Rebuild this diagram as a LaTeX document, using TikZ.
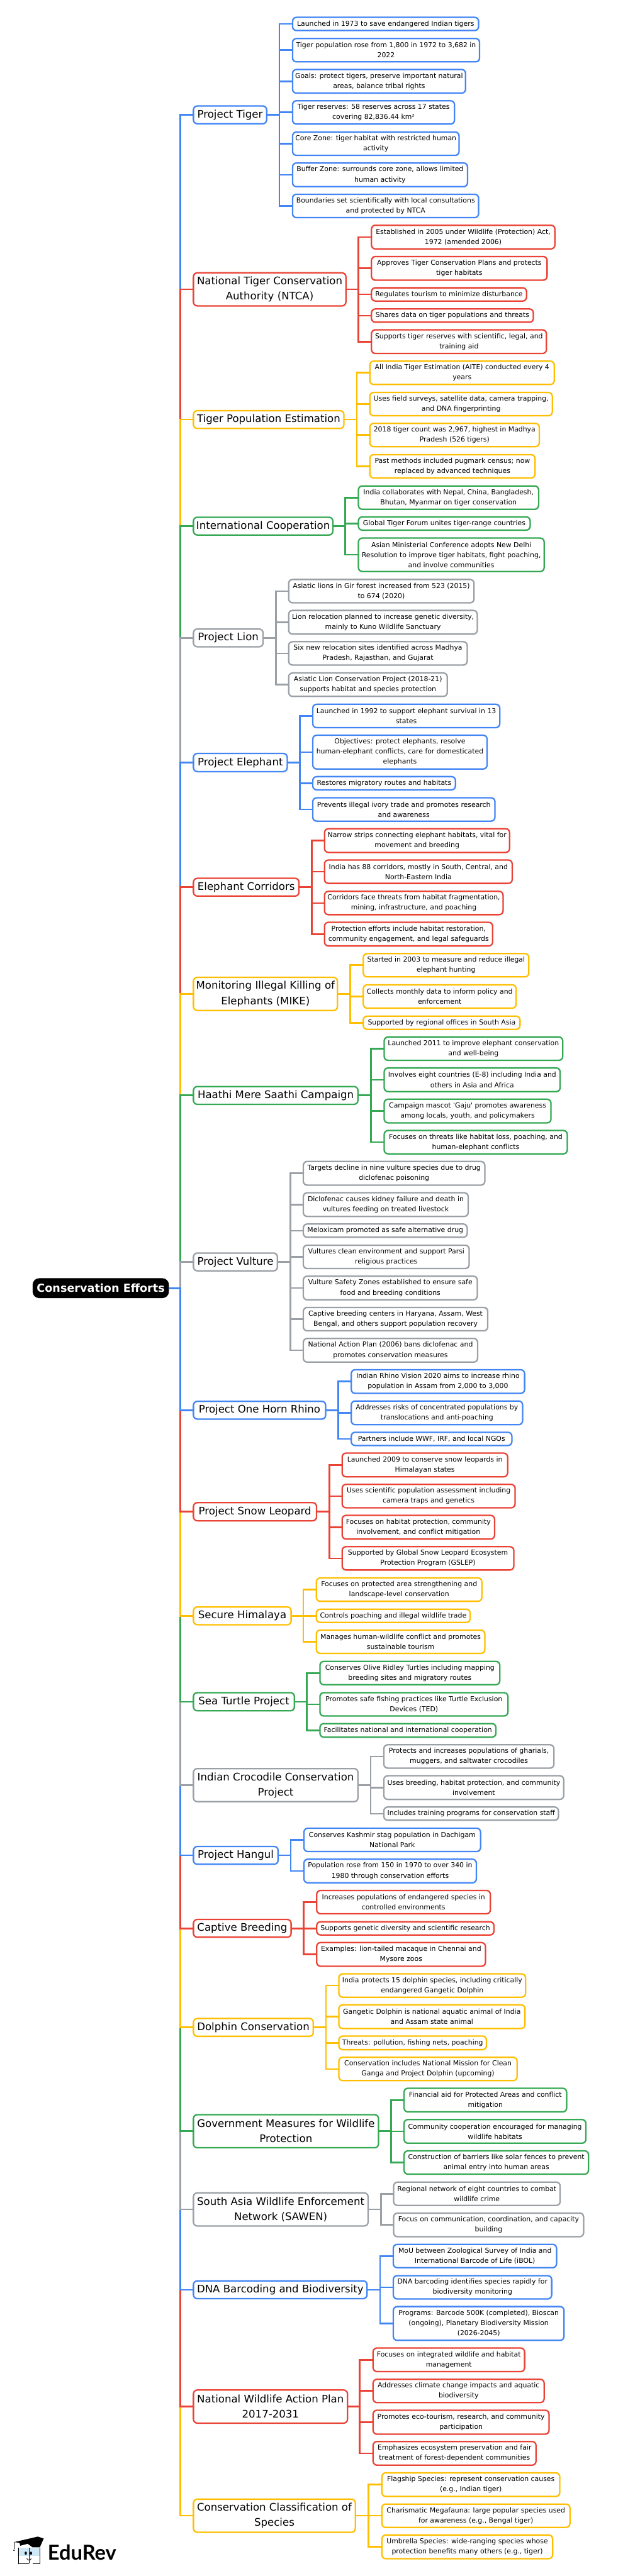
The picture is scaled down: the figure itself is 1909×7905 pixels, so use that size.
\documentclass[tikz,border=0pt]{standalone}
\usepackage{fontspec}
\setmainfont{DejaVu Sans}
\newfontfamily\plainf{DejaVu Sans}
\newfontfamily\logof{Lato}
\definecolor{cB}{HTML}{4285F4}
\definecolor{cR}{HTML}{EA4335}
\definecolor{cY}{HTML}{FFBF00}
\definecolor{cG}{HTML}{34A853}
\definecolor{cA}{HTML}{9AA0A6}
\definecolor{faceblue}{HTML}{CFE8F7}
\tikzset{
 boxbase/.style={rectangle,rounded corners=6pt,line width=2.2pt,fill=white,inner sep=0pt,outer sep=0pt,align=center,text=black},
 leafbox/.style={boxbase,font=\fontsize{10.5}{15.5}\selectfont},
 catbox/.style={boxbase,font=\fontsize{16}{23.25}\selectfont},
 rootbox/.style={rectangle,rounded corners=10pt,fill=black,text=white,inner sep=0pt,outer sep=0pt,align=center,font=\fontsize{17}{23.25}\selectfont\bfseries},
 linkline/.style={line width=2.5pt,line join=miter}
}
\newcommand{\lf}[7]{\node[leafbox,draw=#2,minimum width={(#4-#3-4.4)*0.5pt},minimum height={(#6-#5-4.4)*0.5pt}] (#1) at ({(#3+#4)/2},{(#5+#6)/2}) {#7};}
\newcommand{\ct}[7]{\node[catbox,draw=#2,minimum width={(#4-#3-4.4)*0.5pt},minimum height={(#6-#5-4.4)*0.5pt}] (#1) at ({(#3+#4)/2},{(#5+#6)/2}) {#7};}
\newcommand{\lk}[4]{\draw[linkline,draw=#1] (#2.east) -- (#3 |- #2.east) -- (#3 |- #4.west) -- (#4.west);}
\newcommand{\sk}[2]{\draw[linkline,draw=#1] (root.east) -- (sp |- root.east) -- (sp |- #2.west) -- (#2.west);}
\begin{document}
\begin{tikzpicture}[x=0.5pt,y=-0.5pt]
\useasboundingbox (0,0) rectangle (1909,7905);
\fill[white] (0,0) rectangle (1909,7905);
\coordinate (sp) at (553,0);
\node[rootbox,minimum width=209pt,minimum height=30.5pt] (root) at (309,3953) {Conservation Efforts};
% Project Tiger
\ct{c1}{cB}{591}{820}{323}{382}{Project Tiger}
\coordinate (f1) at (857,0);
\lf{a1}{cB}{895}{1470}{51}{96}{Launched in 1973 to save endangered Indian tigers}
\lf{a2}{cB}{895}{1473}{116}{192}{Tiger population rose from 1,800 in 1972 to 3,682 in\\2022}
\lf{a3}{cB}{895}{1430}{211}{288}{Goals: protect tigers, preserve important natural\\areas, balance tribal rights}
\lf{a4}{cB}{895}{1396}{307}{383}{Tiger reserves: 58 reserves across 17 states\\covering 82,836.44 km²}
\lf{a5}{cB}{895}{1410}{403}{479}{Core Zone: tiger habitat with restricted human\\activity}
\lf{a6}{cB}{895}{1436}{498}{575}{Buffer Zone: surrounds core zone, allows limited\\human activity}
\lf{a7}{cB}{895}{1470}{594}{670}{Boundaries set scientifically with local consultations\\and protected by NTCA}
% NTCA
\ct{c2}{cR}{591}{1063}{835}{941}{National Tiger Conservation\\Authority (NTCA)}
\coordinate (f2) at (1099,0);
\lf{b1}{cR}{1137}{1704}{689}{766}{Established in 2005 under Wildlife (Protection) Act,\\1972 (amended 2006)}
\lf{b2}{cR}{1137}{1680}{785}{862}{Approves Tiger Conservation Plans and protects\\tiger habitats}
\lf{b3}{cR}{1137}{1617}{881}{926}{Regulates tourism to minimize disturbance}
\lf{b4}{cR}{1137}{1638}{946}{991}{Shares data on tiger populations and threats}
\lf{b5}{cR}{1137}{1678}{1010}{1087}{Supports tiger reserves with scientific, legal, and\\training aid}
% Tiger population estimation
\ct{c3}{cY}{591}{1057}{1258}{1317}{Tiger Population Estimation}
\coordinate (f3) at (1094,0);
\lf{d1}{cY}{1132}{1702}{1106}{1182}{All India Tiger Estimation (AITE) conducted every 4\\years}
\lf{d2}{cY}{1132}{1696}{1202}{1278}{Uses field surveys, satellite data, camera trapping,\\and DNA fingerprinting}
\lf{d3}{cY}{1132}{1656}{1297}{1373}{2018 tiger count was 2,967, highest in Madhya\\Pradesh (526 tigers)}
\lf{d4}{cY}{1132}{1643}{1393}{1469}{Past methods included pugmark census; now\\replaced by advanced techniques}
% International
\ct{c4}{cG}{591}{1023}{1585}{1644}{International Cooperation}
\coordinate (f4) at (1059,0);
\lf{e1}{cG}{1097}{1654}{1489}{1565}{India collaborates with Nepal, China, Bangladesh,\\Bhutan, Myanmar on tiger conservation}
\lf{e2}{cG}{1097}{1628}{1584}{1629}{Global Tiger Forum unites tiger-range countries}
\lf{e3}{cG}{1097}{1671}{1649}{1756}{Asian Ministerial Conference adopts New Delhi\\Resolution to improve tiger habitats, fight poaching,\\and involve communities}
% Lion
\ct{c5}{cA}{591}{809}{1928}{1987}{Project Lion}
\coordinate (f5) at (846,0);
\lf{g1}{cA}{883}{1456}{1776}{1852}{Asiatic lions in Gir forest increased from 523 (2015)\\to 674 (2020)}
\lf{g2}{cA}{883}{1466}{1871}{1948}{Lion relocation planned to increase genetic diversity,\\mainly to Kuno Wildlife Sanctuary}
\lf{g3}{cA}{883}{1435}{1967}{2043}{Six new relocation sites identified across Madhya\\Pradesh, Rajasthan, and Gujarat}
\lf{g4}{cA}{883}{1374}{2063}{2139}{Asiatic Lion Conservation Project (2018-21)\\supports habitat and species protection}
% Elephant
\ct{c6}{cB}{591}{883}{2310}{2370}{Project Elephant}
\coordinate (f6) at (920,0);
\lf{h1}{cB}{957}{1535}{2159}{2235}{Launched in 1992 to support elephant survival in 13\\states}
\lf{h2}{cB}{957}{1496}{2254}{2362}{Objectives: protect elephants, resolve\\human-elephant conflicts, care for domesticated\\elephants}
\lf{h3}{cB}{957}{1399}{2381}{2426}{Restores migratory routes and habitats}
\lf{h4}{cB}{957}{1520}{2446}{2522}{Prevents illegal ivory trade and promotes research\\and awareness}
% Corridors
\ct{c7}{cR}{591}{919}{2693}{2752}{Elephant Corridors}
\coordinate (f7) at (956,0);
\lf{i1}{cR}{993}{1565}{2541}{2618}{Narrow strips connecting elephant habitats, vital for\\movement and breeding}
\lf{i2}{cR}{993}{1573}{2637}{2713}{India has 88 corridors, mostly in South, Central, and\\North-Eastern India}
\lf{i3}{cR}{993}{1545}{2733}{2809}{Corridors face threats from habitat fragmentation,\\mining, infrastructure, and poaching}
\lf{i4}{cR}{993}{1513}{2828}{2905}{Protection efforts include habitat restoration,\\community engagement, and legal safeguards}
% MIKE
\ct{c8}{cY}{591}{1037}{2997}{3103}{Monitoring Illegal Killing of\\Elephants (MIKE)}
\coordinate (f8) at (1074,0);
\lf{j1}{cY}{1112}{1624}{2924}{3000}{Started in 2003 to measure and reduce illegal\\elephant hunting}
\lf{j2}{cY}{1112}{1585}{3020}{3096}{Collects monthly data to inform policy and\\enforcement}
\lf{j3}{cY}{1112}{1597}{3116}{3161}{Supported by regional offices in South Asia}
% Haathi
\ct{c9}{cG}{591}{1100}{3332}{3391}{Haathi Mere Saathi Campaign}
\coordinate (f9) at (1138,0);
\lf{k1}{cG}{1176}{1728}{3180}{3256}{Launched 2011 to improve elephant conservation\\and well-being}
\lf{k2}{cG}{1176}{1720}{3275}{3352}{Involves eight countries (E-8) including India and\\others in Asia and Africa}
\lf{k3}{cG}{1176}{1692}{3371}{3448}{Campaign mascot {\plainf 'Gaju'} promotes awareness\\among locals, youth, and policymakers}
\lf{k4}{cG}{1176}{1742}{3467}{3543}{Focuses on threats like habitat loss, poaching, and\\human-elephant conflicts}
% Vulture
\ct{c10}{cA}{591}{853}{3843}{3902}{Project Vulture}
\coordinate (f10) at (891,0);
\lf{l1}{cA}{928}{1489}{3562}{3639}{Targets decline in nine vulture species due to drug\\diclofenac poisoning}
\lf{l2}{cA}{928}{1438}{3658}{3735}{Diclofenac causes kidney failure and death in\\vultures feeding on treated livestock}
\lf{l3}{cA}{928}{1435}{3754}{3799}{Meloxicam promoted as safe alternative drug}
\lf{l4}{cA}{928}{1441}{3819}{3895}{Vultures clean environment and support Parsi\\religious practices}
\lf{l5}{cA}{928}{1466}{3914}{3991}{Vulture Safety Zones established to ensure safe\\food and breeding conditions}
\lf{l6}{cA}{928}{1498}{4010}{4086}{Captive breeding centers in Haryana, Assam, West\\Bengal, and others support population recovery}
\lf{l7}{cA}{928}{1467}{4105}{4182}{National Action Plan (2006) bans diclofenac and\\promotes conservation measures}
% Rhino
\ct{c11}{cB}{591}{1001}{4298}{4357}{Project One Horn Rhino}
\coordinate (f11) at (1037,0);
\lf{m1}{cB}{1075}{1611}{4201}{4278}{Indian Rhino Vision 2020 aims to increase rhino\\population in Assam from 2,000 to 3,000}
\lf{m2}{cB}{1075}{1605}{4297}{4374}{Addresses risks of concentrated populations by\\translocations and anti-poaching}
\lf{m3}{cB}{1075}{1572}{4393}{4438}{Partners include WWF, IRF, and local NGOs}
% Snow leopard
\ct{c12}{cR}{591}{973}{4609}{4669}{Project Snow Leopard}
\coordinate (f12) at (1010,0);
\lf{n1}{cR}{1047}{1559}{4457}{4534}{Launched 2009 to conserve snow leopards in\\Himalayan states}
\lf{n2}{cR}{1047}{1582}{4553}{4629}{Uses scientific population assessment including\\camera traps and genetics}
\lf{n3}{cR}{1047}{1519}{4648}{4725}{Focuses on habitat protection, community\\involvement, and conflict mitigation}
\lf{n4}{cR}{1047}{1578}{4744}{4820}{Supported by Global Snow Leopard Ecosystem\\Protection Program (GSLEP)}
% Secure Himalaya
\ct{c13}{cY}{591}{895}{4929}{4988}{Secure Himalaya}
\coordinate (f13) at (930,0);
\lf{o1}{cY}{968}{1480}{4840}{4916}{Focuses on protected area strengthening and\\landscape-level conservation}
\lf{o2}{cY}{968}{1444}{4936}{4981}{Controls poaching and illegal wildlife trade}
\lf{o3}{cY}{968}{1489}{5000}{5076}{Manages human-wildlife conflict and promotes\\sustainable tourism}
% Sea turtle
\ct{c14}{cG}{591}{905}{5192}{5252}{Sea Turtle Project}
\coordinate (f14) at (941,0);
\lf{p1}{cG}{979}{1535}{5096}{5172}{Conserves Olive Ridley Turtles including mapping\\breeding sites and migratory routes}
\lf{p2}{cG}{979}{1560}{5192}{5268}{Promotes safe fishing practices like Turtle Exclusion\\Devices (TED)}
\lf{p3}{cG}{979}{1523}{5287}{5333}{Facilitates national and international cooperation}
% Crocodile
\ct{c15}{cA}{591}{1100}{5425}{5531}{Indian Crocodile Conservation\\Project}
\coordinate (f15) at (1137,0);
\lf{q1}{cA}{1175}{1701}{5352}{5428}{Protects and increases populations of gharials,\\muggers, and saltwater crocodiles}
\lf{q2}{cA}{1175}{1731}{5447}{5524}{Uses breeding, habitat protection, and community\\involvement}
\lf{q3}{cA}{1175}{1715}{5543}{5588}{Includes training programs for conservation staff}
% Hangul
\ct{c16}{cB}{591}{855}{5664}{5723}{Project Hangul}
\coordinate (f16) at (892,0);
\lf{r1}{cB}{930}{1476}{5608}{5684}{Conserves Kashmir stag population in Dachigam\\National Park}
\lf{r2}{cB}{930}{1463}{5703}{5780}{Population rose from 150 in 1970 to over 340 in\\1980 through conservation efforts}
% Captive breeding
\ct{c17}{cR}{591}{895}{5888}{5947}{Captive Breeding}
\coordinate (f17) at (931,0);
\lf{s1}{cR}{969}{1506}{5799}{5875}{Increases populations of endangered species in\\controlled environments}
\lf{s2}{cR}{969}{1517}{5895}{5940}{Supports genetic diversity and scientific research}
\lf{s3}{cR}{969}{1491}{5959}{6036}{Examples: lion-tailed macaque in Chennai and\\Mysore zoos}
% Dolphin
\ct{c18}{cY}{591}{963}{6192}{6251}{Dolphin Conservation}
\coordinate (f18) at (1000,0);
\lf{t1}{cY}{1037}{1614}{6055}{6131}{India protects 15 dolphin species, including critically\\endangered Gangetic Dolphin}
\lf{t2}{cY}{1037}{1612}{6150}{6227}{Gangetic Dolphin is national aquatic animal of India\\and Assam state animal}
\lf{t3}{cY}{1037}{1494}{6246}{6292}{Threats: pollution, fishing nets, poaching}
\lf{t4}{cY}{1037}{1588}{6311}{6387}{Conservation includes National Mission for Clean\\Ganga and Project Dolphin (upcoming)}
% Government
\ct{c19}{cG}{591}{1163}{6487}{6593}{Government Measures for Wildlife\\Protection}
\coordinate (f19) at (1199,0);
\lf{u1}{cG}{1237}{1740}{6406}{6483}{Financial aid for Protected Areas and conflict\\mitigation}
\lf{u2}{cG}{1237}{1799}{6502}{6579}{Community cooperation encouraged for managing\\wildlife habitats}
\lf{u3}{cG}{1237}{1807}{6598}{6674}{Construction of barriers like solar fences to prevent\\animal entry into human areas}
% SAWEN
\ct{c20}{cA}{591}{1131}{6727}{6833}{South Asia Wildlife Enforcement\\Network (SAWEN)}
\coordinate (f20) at (1169,0);
\lf{v1}{cA}{1205}{1720}{6694}{6770}{Regional network of eight countries to combat\\wildlife crime}
\lf{v2}{cA}{1205}{1792}{6789}{6866}{Focus on communication, coordination, and capacity\\building}
% DNA
\ct{c21}{cB}{591}{1128}{6997}{7056}{DNA Barcoding and Biodiversity}
\coordinate (f21) at (1166,0);
\lf{w1}{cB}{1204}{1709}{6885}{6961}{MoU between Zoological Survey of India and\\International Barcode of Life (iBOL)}
\lf{w2}{cB}{1204}{1694}{6981}{7057}{DNA barcoding identifies species rapidly for\\biodiversity monitoring}
\lf{w3}{cB}{1204}{1732}{7076}{7184}{Programs: Barcode 500K (completed), Bioscan\\(ongoing), Planetary Biodiversity Mission\\(2026-2045)}
% NWAP
\ct{c22}{cR}{591}{1068}{7332}{7438}{National Wildlife Action Plan\\2017-2031}
\coordinate (f22) at (1103,0);
\lf{x1}{cR}{1142}{1611}{7203}{7280}{Focuses on integrated wildlife and habitat\\management}
\lf{x2}{cR}{1142}{1671}{7299}{7375}{Addresses climate change impacts and aquatic\\biodiversity}
\lf{x3}{cR}{1142}{1686}{7394}{7472}{Promotes eco-tourism, research, and community\\participation}
\lf{x4}{cR}{1142}{1646}{7490}{7567}{Emphasizes ecosystem preservation and fair\\treatment of forest-dependent communities}
% Classification
\ct{c23}{cY}{591}{1092}{7667}{7773}{Conservation Classification of\\Species}
\coordinate (f23) at (1130,0);
\lf{y1}{cY}{1169}{1719}{7586}{7663}{Flagship Species: represent conservation causes\\(e.g., Indian tiger)}
\lf{y2}{cY}{1169}{1750}{7682}{7758}{Charismatic Megafauna: large popular species used\\for awareness (e.g., Bengal tiger)}
\lf{y3}{cY}{1169}{1697}{7777}{7854}{Umbrella Species: wide-ranging species whose\\protection benefits many others (e.g., tiger)}
% spine: upper branches, farthest first
\sk{cB}{c1}\sk{cR}{c2}\sk{cY}{c3}\sk{cG}{c4}\sk{cA}{c5}\sk{cB}{c6}\sk{cR}{c7}\sk{cY}{c8}\sk{cG}{c9}\sk{cA}{c10}
% spine: lower branches, farthest first
\sk{cY}{c23}\sk{cR}{c22}\sk{cB}{c21}\sk{cA}{c20}\sk{cG}{c19}\sk{cY}{c18}\sk{cR}{c17}\sk{cB}{c16}\sk{cA}{c15}\sk{cG}{c14}\sk{cY}{c13}\sk{cR}{c12}\sk{cB}{c11}
% forks
\foreach \n in {a1,a2,a3,a4,a5,a6,a7}{\lk{cB}{c1}{f1}{\n}}
\foreach \n in {b1,b2,b3,b4,b5}{\lk{cR}{c2}{f2}{\n}}
\foreach \n in {d1,d2,d3,d4}{\lk{cY}{c3}{f3}{\n}}
\foreach \n in {e1,e2,e3}{\lk{cG}{c4}{f4}{\n}}
\foreach \n in {g1,g2,g3,g4}{\lk{cA}{c5}{f5}{\n}}
\foreach \n in {h1,h2,h3,h4}{\lk{cB}{c6}{f6}{\n}}
\foreach \n in {i1,i2,i3,i4}{\lk{cR}{c7}{f7}{\n}}
\foreach \n in {j1,j2,j3}{\lk{cY}{c8}{f8}{\n}}
\foreach \n in {k1,k2,k3,k4}{\lk{cG}{c9}{f9}{\n}}
\foreach \n in {l1,l2,l3,l4,l5,l6,l7}{\lk{cA}{c10}{f10}{\n}}
\foreach \n in {m1,m2,m3}{\lk{cB}{c11}{f11}{\n}}
\foreach \n in {n1,n2,n3,n4}{\lk{cR}{c12}{f12}{\n}}
\foreach \n in {o1,o2,o3}{\lk{cY}{c13}{f13}{\n}}
\foreach \n in {p1,p2,p3}{\lk{cG}{c14}{f14}{\n}}
\foreach \n in {q1,q2,q3}{\lk{cA}{c15}{f15}{\n}}
\foreach \n in {r1,r2}{\lk{cB}{c16}{f16}{\n}}
\foreach \n in {s1,s2,s3}{\lk{cR}{c17}{f17}{\n}}
\foreach \n in {t1,t2,t3,t4}{\lk{cY}{c18}{f18}{\n}}
\foreach \n in {u1,u2,u3}{\lk{cG}{c19}{f19}{\n}}
\foreach \n in {v1,v2}{\lk{cA}{c20}{f20}{\n}}
\foreach \n in {w1,w2,w3}{\lk{cB}{c21}{f21}{\n}}
\foreach \n in {x1,x2,x3,x4}{\lk{cR}{c22}{f22}{\n}}
\foreach \n in {y1,y2,y3}{\lk{cY}{c23}{f23}{\n}}
% logo
\fill[faceblue] (55,7819) rectangle (122,7844);
\draw[black,line width=1pt] (57,7819) -- (57,7867) -- (88,7867);
\draw[black,line width=1pt] (122,7819) -- (122,7867) -- (100,7867);
\draw[black,line width=0.6pt] (90,7819) -- (90,7867);
\fill[black] (43,7801) -- (116,7784) -- (134,7790) -- (122,7817) -- (100,7817) -- (85,7806) -- (62,7812) -- (60,7803) -- cycle;
\draw[black,line width=0.8pt] (43,7801) -- (43,7822);
\fill[black] (43,7826) circle (2.5);
\fill[black] (79,7835) ellipse (3.5 and 5);
\fill[black] (95,7835) ellipse (3.5 and 5);
\draw[black,line width=0.8pt] (82,7851) .. controls (86,7858) and (92,7858) .. (96,7851);
\node[inner sep=0pt,anchor=base west,font=\fontsize{31.5}{32}\logof\bfseries,text=black] (logo) at (146,7855) {EduRev};
\end{tikzpicture}
\end{document}
